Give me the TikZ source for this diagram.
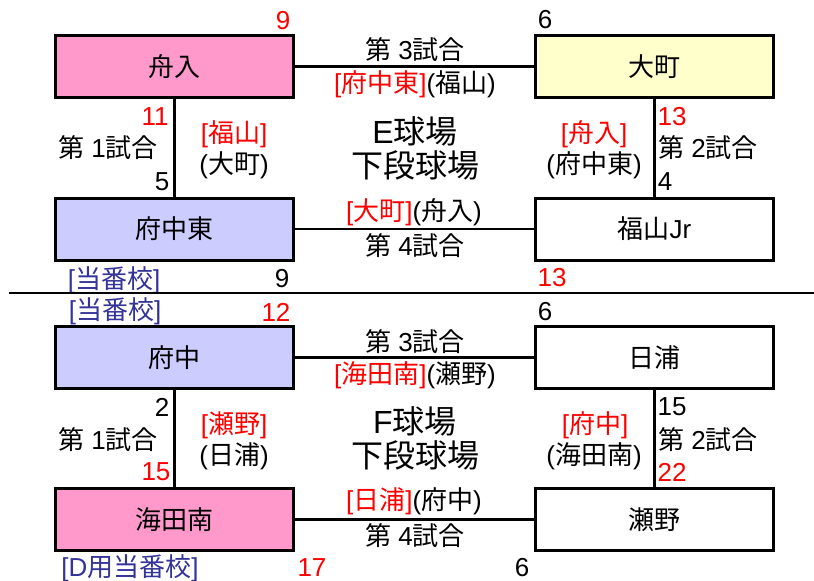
\documentclass[tikz,border=0pt]{standalone}
\usepackage{fontspec}
\setmainfont{Liberation Sans}
\newfontfamily\cjk{Noto Sans CJK JP}
\newcommand{\J}[1]{{\cjk #1}}
\newcommand{\fsz}{\fontsize{26}{30}\selectfont}
\newcommand{\fbig}{\fontsize{32}{36}\selectfont}
\definecolor{pinkbox}{HTML}{FF99CC}
\definecolor{bluebox}{HTML}{CCCCFF}
\definecolor{yellowbox}{HTML}{FFFFCC}
\definecolor{dutyblue}{HTML}{333399}
\tikzset{
  team/.style={draw, line width=3pt, minimum width=238pt, minimum height=62pt, inner sep=0pt, font=\fsz},
  conn/.style={line width=2.5pt},
  lab/.style={inner sep=0pt, font=\fsz},
  big/.style={inner sep=0pt, font=\fbig},
  rd/.style={lab, text=red},
  bl/.style={lab, text=dutyblue},
}
\begin{document}
\begin{tikzpicture}[x=1pt, y=-1pt]
\useasboundingbox[fill=white] (0,0) rectangle (814,581);
% ---------- top section ----------
\node[team, fill=pinkbox]   (funairi) at (174.5,66.5) {\J{舟入}};
\node[team, fill=yellowbox] (omachi)  at (654.5,66.5) {\J{大町}};
\node[team, fill=bluebox]   (fhigashi) at (174.5,229) {\J{府中東}};
\node[team, fill=white]     (fukuyama) at (654.5,229) {\J{福山}Jr};
\draw[conn] (funairi.east) -- (omachi.west);
\draw[conn] (funairi.south) -- (fhigashi.north);
\draw[conn] (omachi.south) -- (fukuyama.north);
\draw[conn] (fhigashi.east) -- (fukuyama.west);

\node[rd]  (t9)  at (283,21) {9};
\node[lab] (t6)  at (545,20) {6};
\node[lab] (g3)  at (415,50) {\J{第} 3\J{試合}};
\node[lab] (g3w) at (415,84) {\textcolor{red}{[\J{府中東}]}(\J{福山})};
\node[rd]  (t11) at (155,117) {11};
\node[lab] (g1)  at (108,148) {\J{第} 1\J{試合}};
\node[lab] (t5)  at (162,182) {5};
\node[rd]  (w1)  at (234,134) {[\J{福山}]};
\node[lab] (l1)  at (234,165) {(\J{大町})};
\node[big] (fe)  at (415,131) {E\J{球場}};
\node[big] (fe2) at (415,165) {\J{下段球場}};
\node[rd]  (t13a) at (672,117) {13};
\node[lab] (g2)  at (708,148) {\J{第} 2\J{試合}};
\node[lab] (t4)  at (665,182) {4};
\node[rd]  (w2)  at (594,134) {[\J{舟入}]};
\node[lab] (l2)  at (594,165) {(\J{府中東})};
\node[lab] (g4w) at (414,212) {\textcolor{red}{[\J{大町}]}(\J{舟入})};
\node[lab] (g4)  at (415,246) {\J{第} 4\J{試合}};
\node[bl]  (duty1) at (114,280) {[\J{当番校}]};
\node[lab] (t9b) at (282,279) {9};
\node[rd]  (t13b) at (552,278) {13};

\draw[line width=1.5pt] (9,293) -- (814,293);

% ---------- bottom section ----------
\node[team, fill=bluebox]  (fuchu)   at (174.5,357.5) {\J{府中}};
\node[team, fill=white]    (hiura)   at (654.5,357.5) {\J{日浦}};
\node[team, fill=pinkbox]  (kaitami) at (174.5,519.5) {\J{海田南}};
\node[team, fill=white]    (seno)    at (654.5,519.5) {\J{瀬野}};
\draw[conn] (fuchu.east) -- (hiura.west);
\draw[conn] (fuchu.south) -- (kaitami.north);
\draw[conn] (hiura.south) -- (seno.north);
\draw[conn] (kaitami.east) -- (seno.west);

\node[bl]  (duty2) at (115,311) {[\J{当番校}]};
\node[rd]  (t12) at (276,312) {12};
\node[lab] (t6b) at (545,312) {6};
\node[lab] (h3)  at (415,342) {\J{第} 3\J{試合}};
\node[lab] (h3w) at (415,375) {\textcolor{red}{[\J{海田南}]}(\J{瀬野})};
\node[lab] (t2)  at (162,407) {2};
\node[lab] (h1)  at (108,440) {\J{第} 1\J{試合}};
\node[rd]  (t15) at (156,472) {15};
\node[rd]  (w3)  at (234,425) {[\J{瀬野}]};
\node[lab] (l3)  at (234,456) {(\J{日浦})};
\node[big] (ff)  at (415,421) {F\J{球場}};
\node[big] (ff2) at (415,455) {\J{下段球場}};
\node[lab] (t15b) at (672,407) {15};
\node[lab] (h2)  at (708,440) {\J{第} 2\J{試合}};
\node[rd]  (t22) at (672,472) {22};
\node[rd]  (w4)  at (595,425) {[\J{府中}]};
\node[lab] (l4)  at (594,456) {(\J{海田南})};
\node[lab] (h4w) at (414,501) {\textcolor{red}{[\J{日浦}]}(\J{府中})};
\node[lab] (h4)  at (415,536) {\J{第} 4\J{試合}};
\node[bl]  (duty3) at (130,568) {[D\J{用当番校}]};
\node[rd]  (t17) at (312,568) {17};
\node[lab] (t6c) at (522,568) {6};
\end{tikzpicture}
\end{document}
